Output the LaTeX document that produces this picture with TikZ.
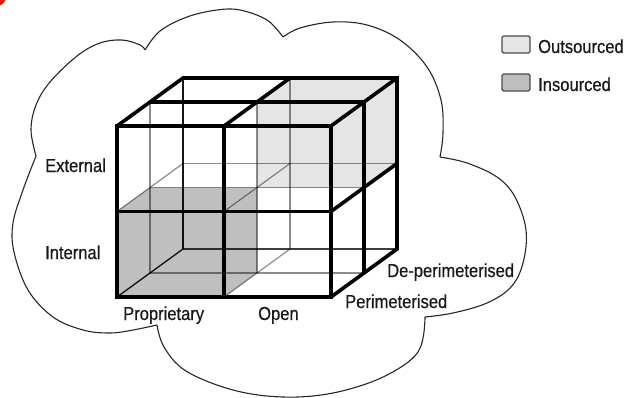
\documentclass[tikz,border=0pt]{standalone}
\usepackage{fontspec}
\setmainfont{Liberation Sans}[FakeStretch=0.88,FakeBold=0.6]
\begin{document}
\begin{tikzpicture}[x=1pt,y=-1pt,
  lbl/.style={inner sep=0pt, anchor=base west, font=\fontsize{18.8}{20}\selectfont, text=black!90},
  thinline/.style={draw=black, draw opacity=0.45, line width=1.2pt},
  hiddenedge/.style={draw=black, draw opacity=0.85, line width=1.2pt},
  thickline/.style={draw=black, line width=3.6pt, line join=miter},
  cloudline/.style={draw=black!85, line width=1.1pt},
  legendbox/.style={draw=black!70, line width=1.4pt, rounded corners=1.5pt}]
\useasboundingbox (0,0) rectangle (628,398);
% red corner mark
\begin{scope}
  \clip (0,0) rectangle (628,398);
  \fill[red!85!orange] (-3,-3) circle (9);
\end{scope}
% lattice coordinates
\foreach \i in {0,1,2}
  \foreach \j in {0,1,2}
    \foreach \k in {0,1,2}
      \coordinate (c\i\j\k) at ({117+107*\i+33*\k},{297-85.5*\j-24*\k});
% cloud
\draw[cloudline] plot[smooth, tension=0.6] coordinates {(36,156) (31,130) (36,105) (50,82) (77,56) (100,43) (122,40) (140,45) (145,50)};
\draw[cloudline] plot[smooth, tension=0.6] coordinates {(145,50) (160,31) (187,17) (217,10) (240,10) (267,20) (283,37)};
\draw[cloudline] plot[smooth, tension=0.6] coordinates {(283,37) (300,28) (333,22) (367,25) (400,40) (427,67) (441,100) (443,133) (440,157)};
\draw[cloudline] plot[smooth, tension=0.6] coordinates {(440,157) (467,163) (497,177) (515,197) (526,230) (523,263) (511,287) (487,303) (453,313) (425,317)};
\draw[cloudline] plot[smooth, tension=0.6] coordinates {(425,317) (418,352) (383,377) (333,393) (283,397) (233,390) (186,371) (164,347) (157,325)};
\draw[cloudline] plot[smooth, tension=0.6] coordinates {(157,325) (133,330) (110,333) (83,330) (53,317) (28,290) (14,252) (13,223) (23,190) (36,156)};
% fills
\fill[black!25] (c000) -- (c010) -- (c011) -- (c111) -- (c101) -- (c100) -- cycle;
\fill[black!10] (c111) -- (c121) -- (c122) -- (c222) -- (c212) -- (c211) -- cycle;
% thin lattice lines
\foreach \a in {0,1,2}
  \foreach \b in {0,1,2} {
    \draw[thinline] (c0\a\b) -- (c2\a\b);
    \draw[thinline] (c\a0\b) -- (c\a2\b);
    \draw[thinline] (c\a\b0) -- (c\a\b2);
  }
% hidden outer edges
\draw[hiddenedge] (c000) -- (c002) -- (c202);
\draw[hiddenedge] (c002) -- (c022);
% thick visible lines
\draw[thickline] (c000) -- (c200) -- (c220) -- (c020) -- cycle;
\draw[thickline] (c020) -- (c022) -- (c222) -- (c202) -- (c200);
\draw[thickline] (c220) -- (c222);
\draw[thickline] (c010) -- (c210);
\draw[thickline] (c100) -- (c120);
\draw[thickline] (c021) -- (c221);
\draw[thickline] (c120) -- (c122);
\draw[thickline] (c201) -- (c221);
\draw[thickline] (c210) -- (c212);
% labels
\node[lbl] (ext) at (45,172) {External};
\node[lbl] (int) at (45,259) {Internal};
\node[lbl] (prop) at (123,320) {Proprietary};
\node[lbl] (open) at (258,320) {Open};
\node[lbl] (peri) at (345,308) {Perimeterised};
\node[lbl] (deperi) at (387,277) {De-perimeterised};
% legend
\draw[legendbox, fill=black!10] (502,36) rectangle (530,53);
\node[lbl] (outs) at (538,53) {Outsourced};
\draw[legendbox, fill=black!25] (502,74) rectangle (530,91);
\node[lbl] (ins) at (538,91) {Insourced};
\end{tikzpicture}
\end{document}
